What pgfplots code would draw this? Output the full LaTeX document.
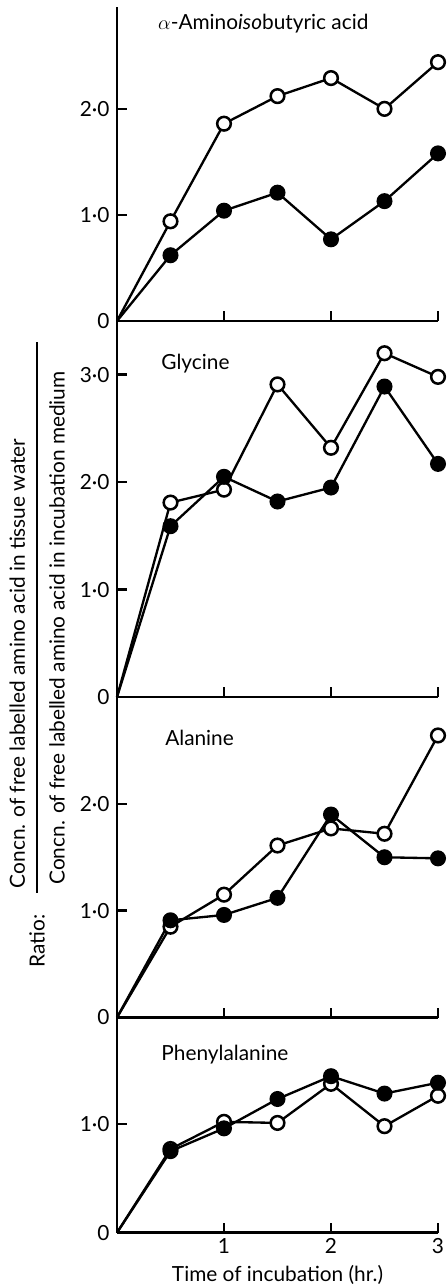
\documentclass[border=0pt]{standalone}
\usepackage{fontspec}
\setmainfont{Lato}
\usepackage{pgfplots}
\pgfplotsset{compat=1.18}

% 1 px of the reference = 0.6pt
\newcommand\lab{\fontsize{12.5}{15}\selectfont}
\pgfplotsset{
  panel/.style={
    scale only axis, width=192.6pt,
    axis x line=bottom, axis y line=left,
    axis line style={-, line width=1.7pt},
    xmin=0, xmax=3, ymin=0,
    xtick={1,2,3}, xticklabels={},
    tick align=inside, major tick length=6pt,
    major tick style={line width=1.5pt, black},
    clip=false,
    tick label style={font=\lab},
    yticklabel style={xshift=-1pt},
    /pgf/number format/assume math mode=true,
  },
  open/.style={black, line width=1.4pt, mark=*, mark size=4.1pt,
    mark options={fill=white, line width=1.5pt}, mark indices={2,3,4,5,6,7}},
  filled/.style={black, line width=1.4pt, mark=*, mark size=4.1pt,
    mark options={fill=black}, mark indices={2,3,4,5,6,7}},
}
\tikzset{ttl/.style={anchor=west, font=\lab}}

\begin{document}
\begin{tikzpicture}
\path[use as bounding box] (0,0) rectangle (268.2pt,-772.2pt);

% alpha-aminoisobutyric acid
\begin{axis}[panel, at={(70.2pt,-192.6pt)}, anchor=south west,
  height=188.4pt, ymax=2.96,
  ytick={0,1,2}, yticklabels={0,1·0,2·0}]
\addplot[open] coordinates {(0,0)(0.5,0.94)(1,1.86)(1.5,2.12)(2,2.29)(2.5,2.0)(3,2.44)};
\addplot[filled] coordinates {(0,0)(0.5,0.62)(1,1.04)(1.5,1.21)(2,0.77)(2.5,1.13)(3,1.58)};
\node[ttl] at (rel axis cs:0.11,0.946) {$\alpha$-Amino\textit{iso}butyric acid};
\end{axis}

% glycine
\begin{axis}[panel, at={(70.2pt,-418.2pt)}, anchor=south west,
  height=225.6pt, ymax=3.5,
  ytick={0,1,2,3}, yticklabels={0,1·0,2·0,3·0}]
\addplot[open] coordinates {(0,0)(0.5,1.81)(1,1.93)(1.5,2.91)(2,2.32)(2.5,3.2)(3,2.98)};
\addplot[filled] coordinates {(0,0)(0.5,1.59)(1,2.05)(1.5,1.82)(2,1.95)(2.5,2.89)(3,2.17)};
\node[ttl] at (rel axis cs:0.12,0.888) {Glycine};
\end{axis}

% alanine
\begin{axis}[panel, at={(70.2pt,-610.5pt)}, anchor=south west,
  height=192.3pt, ymax=3.0,
  ytick={0,1,2}, yticklabels={0,1·0,2·0}]
\addplot[open] coordinates {(0,0)(0.5,0.85)(1,1.15)(1.5,1.61)(2,1.77)(2.5,1.72)(3,2.64)};
\addplot[filled] coordinates {(0,0)(0.5,0.91)(1,0.96)(1.5,1.12)(2,1.90)(2.5,1.50)(3,1.49)};
\node[ttl] at (rel axis cs:0.132,0.872) {Alanine};
\end{axis}

% phenylalanine
\begin{axis}[panel, at={(70.2pt,-739.6pt)}, anchor=south west,
  height=129.1pt, ymax=1.98,
  ytick={0,1}, yticklabels={0,1·0},
  xticklabels={1,2,3},
  xlabel={Time of incubation (hr.)},
  xlabel style={font=\lab, yshift=0pt}]
\addplot[open] coordinates {(0,0)(0.5,0.77)(1,1.02)(1.5,1.01)(2,1.37)(2.5,0.98)(3,1.26)};
\addplot[filled] coordinates {(0,0)(0.5,0.75)(1,0.96)(1.5,1.23)(2,1.44)(2.5,1.28)(3,1.38)};
\node[ttl] at (rel axis cs:0.12,0.826) {Phenylalanine};
\end{axis}

% y label: Ratio: tissue / medium
\draw[line width=0.9pt] (22.2pt,-205.2pt) -- (22.2pt,-535.8pt);
\node[rotate=90, anchor=base west, font=\lab, inner sep=0pt]
  at (15pt,-533pt) {Concn. of free labelled amino acid in tissue water};
\node[rotate=90, anchor=base west, font=\lab, inner sep=0pt]
  at (38.8pt,-531pt) {Concn. of free labelled amino acid in incubation medium};
\node[rotate=90, font=\lab] at (22.2pt,-564.6pt) {Ratio:};
\end{tikzpicture}
\end{document}
